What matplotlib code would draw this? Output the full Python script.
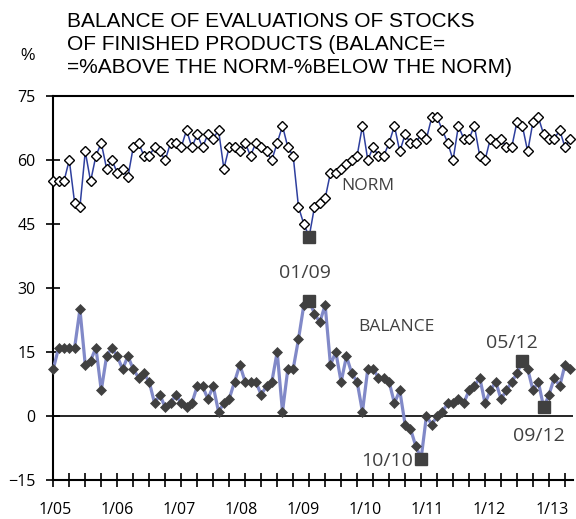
import numpy as np
import pandas as pd
import matplotlib
matplotlib.use('Agg')
import matplotlib.pyplot as plt
from matplotlib.ticker import FixedLocator

# monthly data, 1/05 .. 2/13
months = pd.date_range('2005-01-01', periods=98, freq='MS')
month_labels = list(months.strftime('%m/%y'))

norm = [55, 55, 55, 60, 50, 49, 62, 55, 61, 64, 58, 60,
        57, 58, 56, 63, 64, 61, 61, 63, 62, 60, 64, 64,
        63, 67, 63, 66, 63, 66, 65, 67, 58, 63, 63, 62,
        64, 61, 64, 63, 62, 60, 64, 68, 63, 61, 49, 45,
        42, 49, 50, 51, 57, 57, 58, 59, 60, 61, 68, 60,
        63, 61, 61, 64, 68, 62, 66, 64, 64, 66, 65, 70,
        70, 67, 64, 60, 68, 65, 65, 68, 61, 60, 65, 64,
        65, 63, 63, 69, 68, 62, 69, 70, 66, 65, 65, 67,
        63, 65]

balance = [11, 16, 16, 16, 16, 25, 12, 13, 16, 6, 14, 16,
           14, 11, 14, 11, 9, 10, 8, 3, 5, 2, 3, 5,
           3, 2, 3, 7, 7, 4, 7, 1, 3, 4, 8, 12,
           8, 8, 8, 5, 7, 8, 15, 1, 11, 11, 18, 26,
           27, 24, 22, 26, 12, 15, 8, 14, 10, 8, 1, 11,
           11, 9, 9, 8, 3, 6, -2, -3, -7, -10, 0, -2,
           0, 1, 3, 3, 4, 3, 6, 7, 9, 3, 6, 8,
           4, 6, 8, 10, 13, 11, 6, 8, 2, 5, 9, 7,
           12, 11]

norm_marked = ['01/09']
balance_marked = ['01/09', '10/10', '05/12', '09/12']

year_labels = ['1/05', '1/06', '1/07', '1/08', '1/09', '1/10', '1/11', '1/12', '1/13']
y_ticks = [75, 60, 45, 30, 15, 0, -15]

title_lines = ['BALANCE OF EVALUATIONS OF STOCKS',
               'OF FINISHED PRODUCTS (BALANCE=',
               '=%ABOVE THE NORM-%BELOW THE NORM)']

plt.rcParams['font.family'] = ['Open Sans', 'DejaVu Sans']

x = np.arange(len(months))
norm = np.array(norm)
balance = np.array(balance)

fig = plt.figure(figsize=(5.76, 5.19), dpi=100)
ax = fig.add_axes([0.0925, 0.0751, 0.9023, 0.7399])

# series
ax.plot(x, norm, color='#2E3F9E', lw=1.1, marker='D', ms=5, mfc='white',
        mec='black', mew=1.0, zorder=3, clip_on=False)
ax.plot(x, balance, color='#8189C8', lw=2.3, marker='D', ms=5, mfc='#404040',
        mec='#404040', mew=0.5, zorder=3, clip_on=False)

# highlighted points
ni = [month_labels.index(m) for m in norm_marked]
bi = [month_labels.index(m) for m in balance_marked]
ax.plot(x[ni], norm[ni], 's', ms=8.5, color='#404040', zorder=4)
ax.plot(x[bi], balance[bi], 's', ms=8.5, color='#404040', zorder=4)

ax.axhline(0, color='black', lw=1.2, zorder=2)

# axes
ax.set_xlim(0, 97.5)
ax.set_ylim(-15, 75)
ax.spines['right'].set_visible(False)
for s in ['top', 'left', 'bottom']:
    ax.spines[s].set_linewidth(1.5)
    ax.spines[s].set_color('black')

ax.set_yticks(y_ticks)
ax.tick_params(axis='y', direction='inout', length=9.5, width=1.2, pad=8,
               labelsize=11.5, colors='black')

# quarterly tick marks, year labels
label_pos = 0.3 + np.arange(len(year_labels)) * 11.65
ax.set_xticks(label_pos)
ax.set_xticklabels(year_labels)
ax.xaxis.set_minor_locator(FixedLocator(np.arange(0, 98, 3)))
ax.tick_params(axis='x', which='major', length=0, pad=16, labelsize=11.5)
ax.tick_params(axis='x', which='minor', direction='inout', length=9.5, width=1.2)

# annotations
c = '#404040'
ax.text(59.0, 54.0, 'NORM', color=c, fontsize=12.5, ha='center', va='center')
ax.text(64.4, 20.9, 'BALANCE', color=c, fontsize=12.5, ha='center', va='center')
ax.text(47.3, 33.5, '01/09', color=c, fontsize=14, ha='center', va='center')
ax.text(86.0, 17.2, '05/12', color=c, fontsize=14, ha='center', va='center')
ax.text(91.1, -4.7, '09/12', color=c, fontsize=14, ha='center', va='center')
ax.text(62.6, -10.5, '10/10', color=c, fontsize=14, ha='center', va='center')

# title
for line, yb in zip(title_lines, [0.9474, 0.9037, 0.8584]):
    fig.text(0.1163, yb, line, fontsize=15, family='Liberation Sans',
             ha='left', va='baseline', color='black')
fig.text(28 / 576, 1 - 55.5 / 519, '%', fontsize=11.5, family='Liberation Sans',
         ha='center', va='center', color='black')

fig.savefig('out.png', dpi=100)
